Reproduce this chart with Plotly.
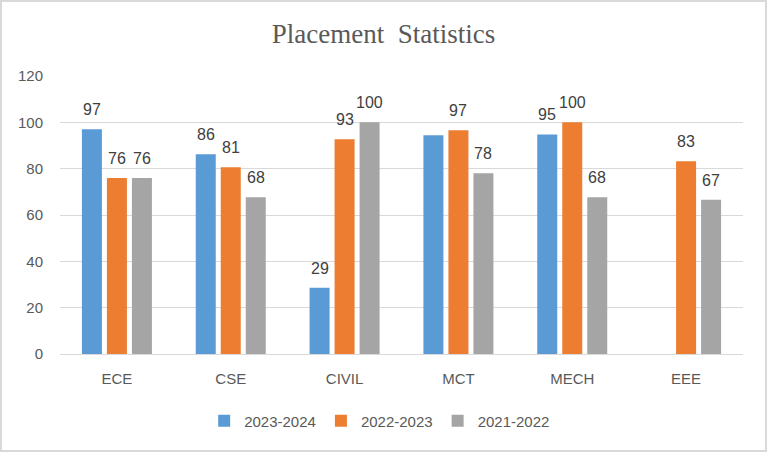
import plotly.graph_objects as go

categories = ["ECE", "CSE", "CIVIL", "MCT", "MECH", "EEE"]
series_names = ["2023-2024", "2022-2023", "2021-2022"]
vals_2023_24 = [97.0, 86.2, 28.6, 94.4, 94.8, None]
vals_2022_23 = [76.0, 80.6, 92.7, 96.6, 100.0, 83.2]
vals_2021_22 = [76.0, 67.7, 100.0, 78.0, 67.7, 66.6]
labels_2023_24 = ["97", "86", "29", "", "95", ""]
labels_2022_23 = ["76", "81", "93", "97", "100", "83"]
labels_2021_22 = ["76", "68", "100", "78", "68", "67"]
y_ticks = [0, 20, 40, 60, 80, 100, 120]

colors = ["#5B9BD5", "#ED7D31", "#A5A5A5"]
all_vals = [vals_2023_24, vals_2022_23, vals_2021_22]
all_labels = [labels_2023_24, labels_2022_23, labels_2021_22]

W, H = 767, 452
ml, mr, mt, mb = 60, 24, 76, 98
pw, ph = W - ml - mr, H - mt - mb

fig = go.Figure()
for name, vals, col in zip(series_names, all_vals, colors):
    fig.add_trace(go.Bar(x=categories, y=vals, name=name, marker_color=col,
                         marker_line_width=0, hoverinfo="skip"))

offsets = [-25, 0, 25]
annotations = []
for vals, labs, off in zip(all_vals, all_labels, offsets):
    for c, v, t in zip(categories, vals, labs):
        if v is None or t == "":
            continue
        annotations.append(dict(x=c, y=v, xref="x", yref="y", text=t, showarrow=False,
                                xshift=off, yshift=9, yanchor="bottom",
                                font=dict(family="Liberation Sans, Arial, sans-serif", size=16, color="#404040")))

fig.update_layout(
    width=W, height=H,
    margin=dict(l=ml, r=mr, t=mt, b=mb, pad=0),
    paper_bgcolor="white", plot_bgcolor="white",
    barmode="group", bargap=0.341, bargroupgap=0.2,
    title=dict(text="Placement\u00a0 Statistics", x=0.5, xref="container", xanchor="center",
               y=1 - 34 / H, yref="container", yanchor="middle",
               font=dict(family="Liberation Serif, Times New Roman, serif", size=27, color="#595959")),
    font=dict(family="Liberation Sans, Arial, sans-serif", color="#595959"),
    xaxis=dict(showgrid=False, showline=False, ticks="", tickfont=dict(size=15, color="#595959"),
               ticklabelstandoff=14),
    yaxis=dict(range=[0, 120], tickvals=y_ticks, showgrid=True, gridcolor="#D9D9D9", gridwidth=1.3,
               zeroline=True, zerolinecolor="#D9D9D9", zerolinewidth=1.3, showline=False,
               tickfont=dict(size=15, color="#595959"), ticklabelstandoff=16),
    legend=dict(orientation="h", x=0.495, xref="container", xanchor="center",
                y=1 - 421 / H, yref="container", yanchor="middle",
                font=dict(size=15, color="#595959"), traceorder="normal",
                itemwidth=30),
    annotations=annotations,
    shapes=[dict(type="rect", xref="paper", yref="paper",
                 x0=(1 - ml) / pw, x1=(W - 1 - ml) / pw,
                 y0=(mt + ph - (H - 1)) / ph, y1=(mt + ph - 1) / ph,
                 line=dict(color="#D9D9D9", width=2), fillcolor="rgba(0,0,0,0)", layer="above")],
)

fig.write_html("out.html")
